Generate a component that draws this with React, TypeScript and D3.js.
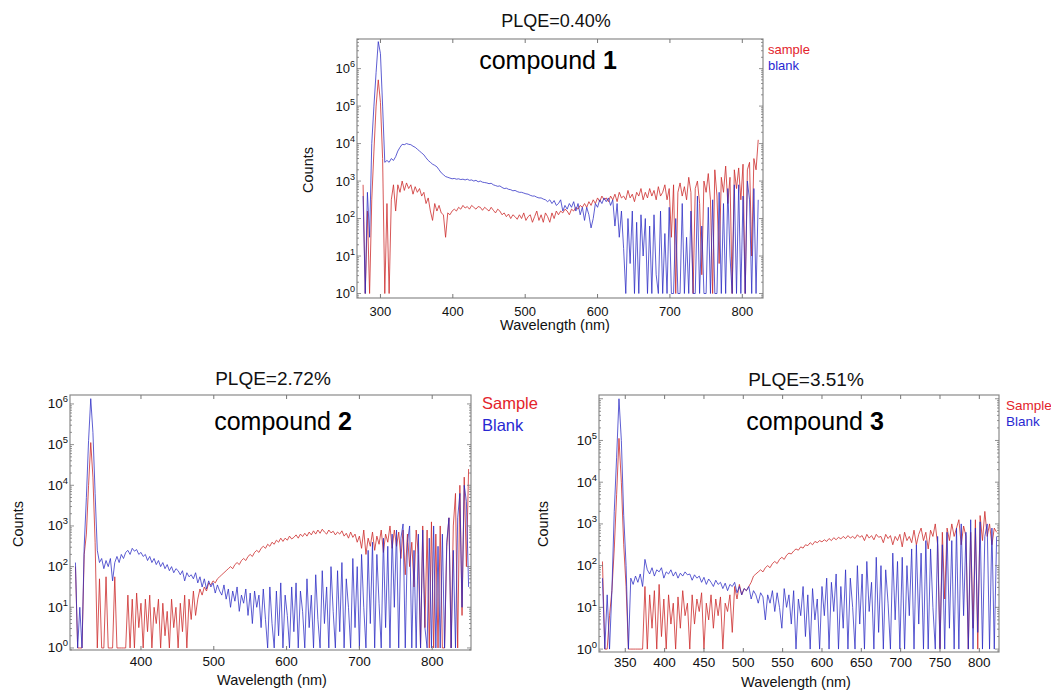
import React from "react";
import * as d3 from "d3";

// Wavelength sampling grids (nm): start value, 3 nm step
const STEP = 3;
const c1Start = 276;
const c2Start = 310;
const c3Start = 321;

// log10(counts); 0 = floor (1 count)
const c1BlankLog = [
  2.6,0,2.7,1.5,4.0,5.0,5.9,6.72,6.4,5.0,
  3.5,3.55,3.5,3.6,3.55,3.65,3.8,3.9,3.98,3.97,
  4.0,3.98,3.97,3.93,3.9,3.85,3.8,3.75,3.7,3.62,
  3.55,3.5,3.45,3.42,3.38,3.3,3.22,3.17,3.12,3.1,
  3.08,3.06,3.07,3.05,3.06,3.04,3.05,3.03,3.05,3.02,
  3.03,3.0,3.02,2.98,3.0,2.97,2.96,2.95,2.93,2.94,
  2.9,2.88,2.86,2.87,2.83,2.8,2.81,2.78,2.77,2.74,
  2.75,2.72,2.7,2.7,2.68,2.66,2.65,2.62,2.6,2.6,
  2.57,2.55,2.55,2.52,2.5,2.45,2.5,2.4,2.48,2.35,
  2.4,2.5,2.2,2.35,2.25,2.4,2.3,2.45,2.2,2.4,
  2.1,2.3,1.95,2.3,2.1,1.75,2.0,2.4,2.3,2.5,
  2.4,2.55,2.45,2.55,2.35,2.5,1.8,2.4,1.5,2.2,
  1.2,0,2.0,0.8,2.2,0,1.9,0,2.1,1.0,
  2.0,0,1.8,0,2.1,0.5,0,2.2,0,1.6,
  0,2.3,0,0,2.0,0,0,2.4,0,1.5,
  0,2.2,0,0,2.6,0,1.8,0,0,2.3,
  0,2.5,0,0,2.7,0,2.4,0,2.8,1.0,
  0,2.9,0,2.9,0,2.6,0,3.0,2.5,0,
  2.8,0,2.5,
];
const c1SampleLog = [
  2.9,0,2.2,0,2.5,3.8,5.0,5.7,5.1,3.6,
  0,2.4,0,2.5,2.9,2.2,2.9,2.7,3.0,2.75,
  2.95,2.8,2.9,2.65,2.85,2.7,2.8,2.6,2.7,2.4,
  2.55,2.2,1.95,2.4,2.2,2.35,2.15,2.1,1.5,2.15,
  2.1,2.2,2.25,2.2,2.3,2.25,2.35,2.28,2.32,2.25,
  2.35,2.3,2.25,2.32,2.3,2.22,2.3,2.25,2.2,2.3,
  2.22,2.15,2.25,2.2,2.1,2.15,2.05,2.12,2.0,2.1,
  2.05,1.98,2.1,2.0,2.15,1.95,2.05,2.1,1.9,2.05,
  2.2,1.95,2.1,1.9,2.15,2.05,1.9,2.15,2.0,2.2,
  2.1,2.2,2.15,2.25,2.2,2.1,2.25,2.2,2.3,2.25,
  2.35,2.3,2.4,2.3,2.45,2.35,2.5,2.4,2.55,2.45,
  2.6,2.5,2.55,2.45,2.6,2.5,2.65,2.45,2.7,2.55,
  2.6,2.5,2.75,2.55,2.65,2.45,2.7,2.6,2.8,2.5,
  2.7,2.55,2.8,2.6,2.75,2.5,2.85,2.6,2.7,2.9,
  2.5,2.8,1.5,2.9,0,2.7,2.95,2.6,2.85,2.5,
  3.1,2.7,0,2.8,3.0,2.4,0.5,3.0,2.7,3.2,
  2.5,0,3.3,2.6,0.8,3.1,2.7,3.4,2.4,3.1,
  0,3.3,2.8,3.35,2.5,3.45,0,3.3,3.5,1.0,
  3.6,3.3,4.1,
];

const c2BlankLog = [
  2.1,0,1.0,0,2.5,3.7,5.1,6.13,5.3,3.8,
  2.4,2.1,2.2,1.95,2.15,2.0,2.2,1.65,2.1,2.25,
  2.1,2.3,2.2,2.35,2.4,2.3,2.45,2.38,2.42,2.3,
  2.35,2.25,2.3,2.15,2.25,2.1,2.2,2.05,2.15,2.0,
  2.1,1.95,2.05,1.9,2.0,1.85,1.95,1.9,1.8,1.9,
  1.65,1.85,1.75,1.8,1.7,1.85,1.6,1.75,1.5,1.7,
  1.45,1.65,1.5,1.6,1.35,1.55,1.4,1.3,1.55,1.2,
  1.45,1.0,1.4,1.15,1.5,0.9,1.3,1.1,1.45,0.8,
  1.35,0.6,1.4,1.0,1.3,0.5,1.45,0.7,0,1.5,
  0.6,0,1.4,0.3,1.6,0,1.3,0.8,0,1.5,
  0.4,1.6,0,1.4,0.9,0,1.7,0.5,1.3,0,
  1.8,0.7,0,1.9,0.6,1.5,0,2.0,0.9,0,
  1.9,0.4,2.1,0,1.7,1.0,0,2.2,0.5,2.0,
  0,2.3,1.0,0,2.4,0.6,2.6,0,2.3,1.1,
  0,2.7,0.5,2.5,0,2.8,1.0,2.9,0,2.7,
  3.05,0,2.6,3.0,0,2.4,0,2.8,0,2.9,
  0.5,0,2.7,0,3.0,0,2.5,0,2.8,0,
  2.6,3.2,0,2.4,0,3.2,3.8,1.0,4.0,3.6,
  1.5,
];
const c2SampleLog = [
  2.0,0,0,0,2.3,2.8,4.0,5.05,4.2,2.6,
  0,1.7,0,0,1.75,0,0,0,1.75,0,
  0,0,0,0,1.3,0,1.2,0,1.35,0.5,
  1.1,0,1.2,0.4,1.3,0,1.0,0.6,1.2,0,
  1.1,0.3,0.9,0,1.2,0.5,1.0,0,1.1,0.4,
  1.3,0,1.2,0.7,1.4,0.8,1.2,1.45,1.3,1.5,
  1.4,1.6,1.55,1.65,1.6,1.7,1.75,1.8,1.85,1.9,
  1.95,2.0,1.95,2.05,2.1,2.05,2.15,2.2,2.15,2.25,
  2.3,2.25,2.35,2.4,2.35,2.45,2.5,2.45,2.55,2.5,
  2.6,2.55,2.65,2.6,2.7,2.62,2.7,2.65,2.75,2.68,
  2.72,2.78,2.7,2.8,2.74,2.82,2.75,2.85,2.78,2.88,
  2.8,2.9,2.82,2.92,2.85,2.8,2.9,2.83,2.87,2.78,
  2.85,2.8,2.88,2.75,2.82,2.7,2.85,2.72,2.8,2.6,
  2.75,2.45,2.9,2.3,2.7,2.5,2.85,2.4,2.75,2.55,
  2.9,2.35,2.8,2.6,3.0,2.45,2.9,2.5,2.85,2.2,
  2.9,1.8,2.8,2.0,2.6,1.5,2.9,2.3,0,3.0,
  0.5,2.9,0,3.1,0,2.8,0,3.0,0,0,
  2.5,3.2,0,3.0,3.8,0,4.0,0.8,4.2,2.0,
  4.4,
];

const c3BlankLog = [
  1.7,0,1.3,0,1.4,3.3,4.6,6.0,5.0,3.2,
  2.0,0,1.7,1.55,1.75,1.6,1.8,1.5,2.15,1.9,
  1.8,1.95,1.75,1.9,1.85,1.95,1.7,1.85,1.8,1.9,
  1.75,1.85,1.7,1.82,1.75,1.85,1.78,1.8,1.65,1.78,
  1.7,1.75,1.6,1.72,1.55,1.68,1.6,1.5,1.65,1.55,
  1.6,1.45,1.58,1.4,1.55,1.5,1.6,1.35,1.5,1.3,
  1.45,1.4,1.5,1.2,1.4,1.3,1.1,1.35,1.25,0.7,
  1.3,1.1,1.4,0.9,1.35,1.0,0.5,1.45,1.0,1.3,
  0.6,1.4,0,1.2,0.8,1.5,0.3,1.3,0,1.45,
  0.7,1.2,0,1.5,0.8,1.7,0,1.6,0.9,1.8,
  0,1.5,0.5,1.9,0,1.7,1.0,0,2.0,0.6,
  1.8,0,2.1,0.9,1.6,0,2.2,0.4,2.0,0,
  1.9,1.1,0,2.3,0.7,2.1,0,2.2,0,2.0,
  0.8,2.4,0,2.5,0.6,2.3,0,2.6,0,2.4,
  1.0,0,2.7,0,2.5,0,2.8,0.5,2.6,0,
  2.9,0,3.0,0.8,2.8,0,3.1,0,2.9,0.4,
  3.05,0,2.7,3.0,0,2.9,0,2.7,
];
const c3SampleLog = [
  2.1,0,0,0.8,1.4,2.4,3.7,5.05,4.0,2.5,
  1.5,0,0,0,0,0,0,0,1.5,0,
  1.3,0.5,1.4,0,1.55,0.3,1.2,0,1.3,0.6,
  1.1,0,1.25,0.5,1.4,0.8,1.1,0,1.3,0.6,
  1.2,0.9,1.35,0,1.1,0.7,1.3,0.5,1.2,0.8,
  1.25,0,1.1,0.9,1.3,0.4,1.5,1.2,1.55,1.3,
  1.45,1.4,1.5,1.6,1.75,1.8,1.85,1.9,1.85,1.95,
  2.0,1.95,2.05,2.1,2.05,2.15,2.2,2.15,2.25,2.3,
  2.28,2.35,2.4,2.37,2.45,2.42,2.5,2.48,2.55,2.5,
  2.58,2.55,2.6,2.57,2.62,2.58,2.65,2.6,2.67,2.62,
  2.68,2.64,2.7,2.65,2.72,2.66,2.7,2.65,2.74,2.68,
  2.72,2.6,2.75,2.66,2.72,2.62,2.75,2.68,2.7,2.55,
  2.75,2.65,2.72,2.5,2.7,2.6,2.75,2.45,2.8,2.6,
  2.7,2.55,2.85,2.5,2.75,2.9,2.6,2.8,2.4,2.85,
  2.7,3.0,2.5,0,2.8,1.2,2.9,2.6,3.0,2.7,
  2.9,3.1,2.5,2.95,2.7,0,2.8,0.5,3.1,0,
  3.2,2.6,3.3,2.7,3.0,2.5,2.9,2.8,
];

const c1XTicks = [300, 400, 500, 600, 700, 800];
const c2XTicks = [400, 500, 600, 700, 800];
const c3XTicks = [350, 400, 450, 500, 550, 600, 650, 700, 750, 800];

const titles = ["PLQE=0.40%", "PLQE=2.72%", "PLQE=3.51%"];
const compoundNums = ["1", "2", "3"];
const legendLabels = [["sample", "blank"], ["Sample", "Blank"], ["Sample", "Blank"]];

const FONT = "'Liberation Sans', Arial, Helvetica, sans-serif";
const RED_LINE = "rgb(205,45,45)";
const BLUE_LINE = "rgb(40,40,195)";
const RED_TXT = "#e3232b";
const BLUE_TXT = "#2828d2";

type PanelCfg = {
  frame: { l: number; r: number; t: number; b: number };
  xDom: [number, number];
  yLogDom: [number, number];
  xTicks: number[];
  maxLabelExp: number;
  start: number;
  sample: number[];
  blank: number[];
  title: string;
  num: string;
  legend: string[];
  titlePos: [number, number, number];
  compPos: [number, number, number];
  legendPos: [number, number, number, number];
  countsPos: [number, number];
  wlPos: [number, number];
  tickLabelY: number;
  labelFont: number;
};

const panels: PanelCfg[] = [
  {
    frame: { l: 357, r: 763, t: 39, b: 298 },
    xDom: [267.6, 828.6],
    yLogDom: [-0.12, 6.79],
    xTicks: c1XTicks,
    maxLabelExp: 6,
    start: c1Start,
    sample: c1SampleLog,
    blank: c1BlankLog,
    title: titles[0],
    num: compoundNums[0],
    legend: legendLabels[0],
    titlePos: [556, 27, 18],
    compPos: [548, 69, 25],
    legendPos: [768, 54, 70, 13],
    countsPos: [313, 170],
    wlPos: [555, 330],
    tickLabelY: 316,
    labelFont: 13,
  },
  {
    frame: { l: 70, r: 471, t: 395, b: 650 },
    xDom: [302.5, 853.3],
    yLogDom: [-0.05, 6.22],
    xTicks: c2XTicks,
    maxLabelExp: 6,
    start: c2Start,
    sample: c2SampleLog,
    blank: c2BlankLog,
    title: titles[1],
    num: compoundNums[1],
    legend: legendLabels[1],
    titlePos: [273, 385, 19],
    compPos: [283, 430, 25],
    legendPos: [482, 409, 431, 16.5],
    countsPos: [23, 524],
    wlPos: [272, 685],
    tickLabelY: 666,
    labelFont: 13.5,
  },
  {
    frame: { l: 599, r: 999, t: 395, b: 652 },
    xDom: [316.6, 825],
    yLogDom: [-0.07, 6.09],
    xTicks: c3XTicks,
    maxLabelExp: 5,
    start: c3Start,
    sample: c3SampleLog,
    blank: c3BlankLog,
    title: titles[2],
    num: compoundNums[2],
    legend: legendLabels[2],
    titlePos: [806, 386, 19],
    compPos: [815, 430, 25],
    legendPos: [1006, 410, 426, 13.5],
    countsPos: [548, 524],
    wlPos: [796, 687],
    tickLabelY: 667,
    labelFont: 13.5,
  },
];

function Panel({ cfg, idx }: { cfg: PanelCfg; idx: number }) {
  const { frame } = cfg;
  const x = d3.scaleLinear().domain(cfg.xDom).range([frame.l, frame.r]);
  const y = d3
    .scaleLog()
    .domain([Math.pow(10, cfg.yLogDom[0]), Math.pow(10, cfg.yLogDom[1])])
    .range([frame.b, frame.t]);

  const toPts = (arr: number[]) =>
    arr.map((v, i) => ({ w: cfg.start + STEP * i, c: Math.max(1, Math.pow(10, v)) }));

  const line = d3
    .line<{ w: number; c: number }>()
    .x((d) => x(d.w))
    .y((d) => y(d.c));

  const clipId = `clip-${idx}`;

  const yTicks: { v: number; major: boolean; exp: number }[] = [];
  for (let e = Math.floor(cfg.yLogDom[0]); e <= Math.ceil(cfg.yLogDom[1]); e++) {
    for (let k = 1; k <= 9; k++) {
      const v = k * Math.pow(10, e);
      const lv = Math.log10(v);
      if (lv >= cfg.yLogDom[0] && lv <= cfg.yLogDom[1]) {
        yTicks.push({ v, major: k === 1, exp: e });
      }
    }
  }

  const tickColor = "#777";
  return (
    <g>
      <defs>
        <clipPath id={clipId}>
          <rect x={frame.l} y={frame.t} width={frame.r - frame.l} height={frame.b - frame.t} />
        </clipPath>
      </defs>
      <g clipPath={`url(#${clipId})`}>
        <path d={line(toPts(cfg.sample)) || ""} fill="none" stroke={RED_LINE} strokeWidth={1} strokeOpacity={0.8} />
        <path d={line(toPts(cfg.blank)) || ""} fill="none" stroke={BLUE_LINE} strokeWidth={1} strokeOpacity={0.75} />
      </g>
      <rect
        x={frame.l}
        y={frame.t}
        width={frame.r - frame.l}
        height={frame.b - frame.t}
        fill="none"
        stroke="#8a8a8a"
        strokeWidth={1.2}
      />
      {cfg.xTicks.map((t) => (
        <g key={`xt${t}`}>
          <line x1={x(t)} x2={x(t)} y1={frame.b} y2={frame.b - 4} stroke={tickColor} />
          <line x1={x(t)} x2={x(t)} y1={frame.t} y2={frame.t + 4} stroke={tickColor} />
          <text
            x={x(t)}
            y={cfg.tickLabelY}
            textAnchor="middle"
            fontFamily={FONT}
            fontSize={cfg.labelFont}
            fill="#111"
          >
            {t}
          </text>
        </g>
      ))}
      {yTicks.map((t, i) => (
        <g key={`yt${i}`}>
          <line
            x1={frame.l}
            x2={frame.l + (t.major ? 4 : 2)}
            y1={y(t.v)}
            y2={y(t.v)}
            stroke={tickColor}
            strokeWidth={0.8}
          />
          <line
            x1={frame.r}
            x2={frame.r - (t.major ? 4 : 2)}
            y1={y(t.v)}
            y2={y(t.v)}
            stroke={tickColor}
            strokeWidth={0.8}
          />
          {t.major && t.exp <= cfg.maxLabelExp ? (
            <text
              x={frame.l - 2}
              y={y(t.v) + 4.5}
              textAnchor="end"
              fontFamily={FONT}
              fontSize={cfg.labelFont}
              fill="#111"
            >
              10
              <tspan dy={-6} fontSize={cfg.labelFont * 0.7}>
                {t.exp}
              </tspan>
            </text>
          ) : null}
        </g>
      ))}
      <text
        x={cfg.titlePos[0]}
        y={cfg.titlePos[1]}
        textAnchor="middle"
        fontFamily={FONT}
        fontSize={cfg.titlePos[2]}
        fill="#111"
      >
        {cfg.title}
      </text>
      <text
        x={cfg.compPos[0]}
        y={cfg.compPos[1]}
        textAnchor="middle"
        fontFamily={FONT}
        fontSize={cfg.compPos[2]}
        fill="#000"
      >
        <tspan>compound </tspan>
        <tspan fontWeight="bold">{cfg.num}</tspan>
      </text>
      <text x={cfg.legendPos[0]} y={cfg.legendPos[1]} fontFamily={FONT} fontSize={cfg.legendPos[3]} fill={RED_TXT}>
        {cfg.legend[0]}
      </text>
      <text x={cfg.legendPos[0]} y={cfg.legendPos[2]} fontFamily={FONT} fontSize={cfg.legendPos[3]} fill={BLUE_TXT}>
        {cfg.legend[1]}
      </text>
      <text
        transform={`translate(${cfg.countsPos[0]},${cfg.countsPos[1]}) rotate(-90)`}
        textAnchor="middle"
        fontFamily={FONT}
        fontSize={14.5}
        fill="#111"
      >
        Counts
      </text>
      <text
        x={cfg.wlPos[0]}
        y={cfg.wlPos[1]}
        textAnchor="middle"
        fontFamily={FONT}
        fontSize={14.5}
        fill="#111"
      >
        Wavelength (nm)
      </text>
    </g>
  );
}

export default function App() {
  return (
    <svg
      width={1051}
      height={690}
      viewBox="0 0 1051 690"
      style={{ position: "absolute", left: 0, top: 0, display: "block", background: "#fff" }}
    >
      <rect x={0} y={0} width={1051} height={690} fill="#fff" />
      {panels.map((p, i) => (
        <Panel key={i} cfg={p} idx={i} />
      ))}
    </svg>
  );
}
